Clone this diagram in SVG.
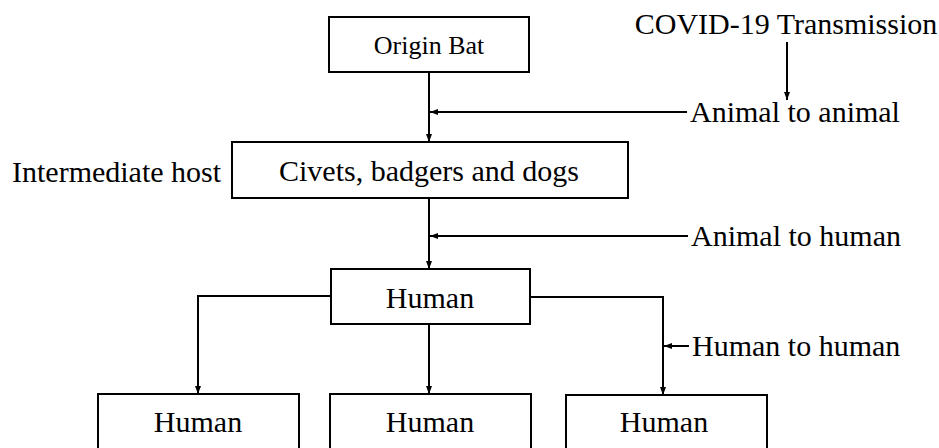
<svg xmlns="http://www.w3.org/2000/svg" width="939" height="448" viewBox="0 0 939 448">
<style>
.box{fill:#fff;stroke:#000;stroke-width:2}
.t{font-family:"Liberation Serif","Times New Roman",serif;font-size:30px;fill:#000}
.c{text-anchor:middle}
.ln{fill:none;stroke:#000;stroke-width:2}
</style>
<defs>
<marker id="ah" markerUnits="userSpaceOnUse" markerWidth="8" markerHeight="6" viewBox="0 0 8 6" refX="8" refY="3" orient="auto">
<path d="M0,0 L8,3 L0,6 Z" fill="#000"/>
</marker>
</defs>
<g id="connectors">
<path class="ln" d="M429,72 V142" marker-end="url(#ah)"/>
<path class="ln" d="M687,112 H430" marker-end="url(#ah)"/>
<path class="ln" d="M787,42 V100" marker-end="url(#ah)"/>
<path class="ln" d="M429,198 V269" marker-end="url(#ah)"/>
<path class="ln" d="M688,236 H430" marker-end="url(#ah)"/>
<path class="ln" d="M331,296 H198 V394" marker-end="url(#ah)"/>
<path class="ln" d="M429,324 V394" marker-end="url(#ah)"/>
<path class="ln" d="M530,297 H663 V395" marker-end="url(#ah)"/>
<path class="ln" d="M689,346 H664" marker-end="url(#ah)"/>
</g>
<g id="origin-bat">
<rect class="box" x="329" y="17" width="200" height="55"/>
<text class="t c" x="429" y="54" style="font-size:26px">Origin Bat</text>
</g>
<g id="title">
<text class="t c" x="786" y="34">COVID-19 Transmission</text>
</g>
<g id="animal-to-animal">
<text class="t" x="690" y="122">Animal to animal</text>
</g>
<g id="intermediate-host">
<text class="t" x="12" y="182">Intermediate host</text>
</g>
<g id="civets">
<rect class="box" x="232" y="142" width="396" height="56"/>
<text class="t c" x="429" y="181">Civets, badgers and dogs</text>
</g>
<g id="animal-to-human">
<text class="t" x="691" y="246">Animal to human</text>
</g>
<g id="human-top">
<rect class="box" x="331" y="269" width="199" height="55"/>
<text class="t c" x="430" y="308">Human</text>
</g>
<g id="human-to-human">
<text class="t" x="692" y="356">Human to human</text>
</g>
<g id="human-left">
<rect class="box" x="98" y="394" width="201" height="70"/>
<text class="t c" x="198" y="432">Human</text>
</g>
<g id="human-mid">
<rect class="box" x="330" y="394" width="201" height="70"/>
<text class="t c" x="430" y="432">Human</text>
</g>
<g id="human-right">
<rect class="box" x="566" y="395" width="201" height="70"/>
<text class="t c" x="664" y="432">Human</text>
</g>
</svg>
